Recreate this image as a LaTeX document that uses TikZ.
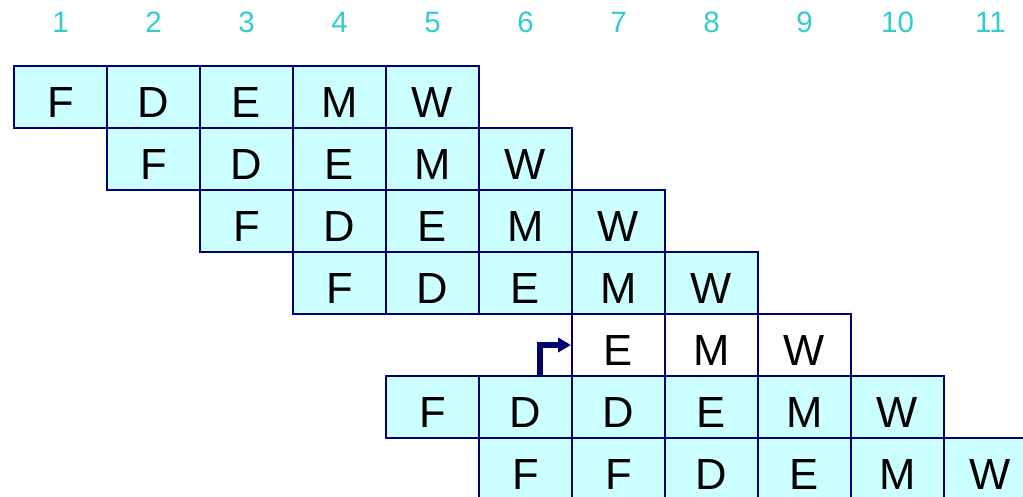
\documentclass[tikz,border=0pt]{standalone}
\usepackage{fontspec}
\setmainfont{Liberation Sans}
\usetikzlibrary{arrows.meta}
\definecolor{navy}{HTML}{00006E}
\definecolor{cellfill}{HTML}{CCFFFF}
\definecolor{numcol}{HTML}{33CCCC}
\begin{document}
\begin{tikzpicture}[x=0.025cm,y=-0.025cm,
  cellbox/.style={draw=navy, line width=1.6pt, fill=cellfill, rectangle,
    minimum width=2.325cm, minimum height=1.55cm, inner sep=0pt,
    text height=1.02cm, text depth=0pt, font=\fontsize{31}{31}\selectfont},
  whitebox/.style={cellbox, fill=white},
  numlbl/.style={text=numcol, anchor=base, inner sep=0pt, font=\fontsize{21}{21}\selectfont},
  jump/.style={draw=navy, line width=3.8pt, -{Triangle[length=9pt,width=10pt]}}]
\useasboundingbox (0,0) rectangle (1023,497);
\clip (0,0) rectangle (1023,497);
% column numbers
\foreach \i in {1,...,11}
  \node[numlbl] (n\i) at ({60.5+93*(\i-1)},33) {\i};
% rows
\foreach \t [count=\k] in {F,D,E,M,W}
  \node[cellbox] (c1-\k) at ({60.5+93*(\k-1)},97) {\t};
\foreach \t [count=\k from 2] in {F,D,E,M,W}
  \node[cellbox] (c2-\k) at ({60.5+93*(\k-1)},159) {\t};
\foreach \t [count=\k from 3] in {F,D,E,M,W}
  \node[cellbox] (c3-\k) at ({60.5+93*(\k-1)},221) {\t};
\foreach \t [count=\k from 4] in {F,D,E,M,W}
  \node[cellbox] (c4-\k) at ({60.5+93*(\k-1)},283) {\t};
\foreach \t [count=\k from 7] in {E,M,W}
  \node[whitebox] (c5-\k) at ({60.5+93*(\k-1)},345) {\t};
\foreach \t [count=\k from 5] in {F,D,D,E,M,W}
  \node[cellbox] (c6-\k) at ({60.5+93*(\k-1)},407) {\t};
\foreach \t [count=\k from 6] in {F,F,D,E,M,W}
  \node[cellbox] (c7-\k) at ({60.5+93*(\k-1)},469) {\t};
% forwarding arrow
\coordinate (astart) at ([xshift=0.3625cm]c6-6.north);
\draw[jump] (astart) |- (c5-7.west);
\end{tikzpicture}
\end{document}
